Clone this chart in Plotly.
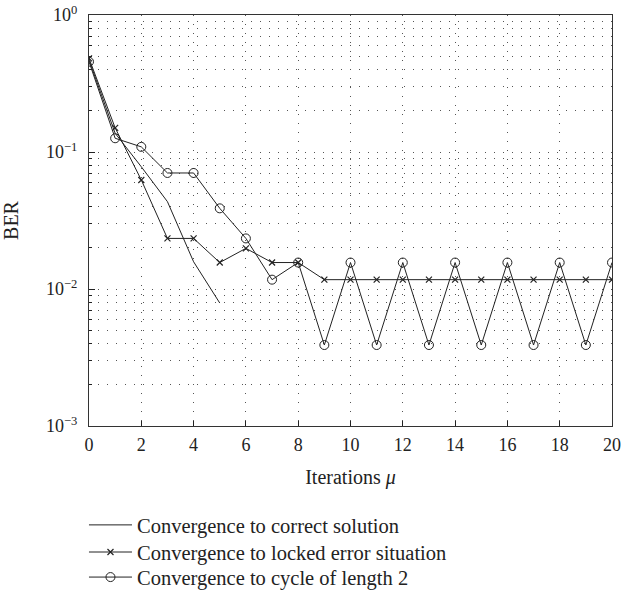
import plotly.graph_objects as go

iters_correct = [0, 1, 2, 3, 4, 5]
ber_correct = [0.47, 0.137, 0.078, 0.0434, 0.0158, 0.0079]

iters = list(range(21))
ber_locked = [0.483, 0.150, 0.0625, 0.0234, 0.0234, 0.0156, 0.0198, 0.0156, 0.0156,
              0.0117, 0.0117, 0.0117, 0.0117, 0.0117, 0.0117, 0.0117, 0.0117, 0.0117,
              0.0117, 0.0117, 0.0117]
ber_cycle = [0.456, 0.126, 0.109, 0.0703, 0.0703, 0.0388, 0.0234, 0.0117, 0.0156,
             0.0039, 0.0156, 0.0039, 0.0156, 0.0039, 0.0156, 0.0039, 0.0156, 0.0039,
             0.0156, 0.0039, 0.0156]

names = ["Convergence to correct solution",
         "Convergence to locked error situation",
         "Convergence to cycle of length 2"]

x_ticks = list(range(0, 21, 2))
y_ticks = [1e-3, 1e-2, 1e-1, 1]
y_ticktext = ["10<sup>−3</sup>", "10<sup>−2</sup>", "10<sup>−1</sup>", "10<sup>0</sup>"]
y_minor = [m * 10 ** e for e in (-3, -2, -1) for m in range(2, 10)]

FONT = "Liberation Serif"
INK = "#222"
fig = go.Figure()
fig.add_trace(go.Scatter(x=iters_correct, y=ber_correct, mode="lines", name=names[0],
                         line=dict(color=INK, width=1), legend="legend"))
fig.add_trace(go.Scatter(x=iters, y=ber_locked, mode="lines+markers", name=names[1],
                         line=dict(color=INK, width=1),
                         marker=dict(symbol="x-thin-open", size=6, color=INK,
                                     line=dict(color=INK, width=1.2)), legend="legend2"))
fig.add_trace(go.Scatter(x=iters, y=ber_cycle, mode="lines+markers", name=names[2],
                         line=dict(color=INK, width=1),
                         marker=dict(symbol="circle-open", size=9, color=INK,
                                     line=dict(color=INK, width=1)), legend="legend3"))


def leg(y):
    return dict(x=-0.0096, y=y, xanchor="left", yanchor="middle",
                font=dict(family=FONT, size=20.5, color=INK),
                itemwidth=43, bgcolor="rgba(0,0,0,0)")


grid_dash = "1px,8px"
fig.update_layout(
    width=624, height=592,
    margin=dict(l=89, r=12, t=15, b=166, autoexpand=False),
    paper_bgcolor="white", plot_bgcolor="white",
    font=dict(family=FONT, size=18, color=INK),
    showlegend=True,
    legend=leg(-0.241), legend2=leg(-0.307), legend3=leg(-0.368),
    xaxis=dict(range=[0, 20], tickvals=x_ticks, ticks="inside", ticklen=5,
               tickcolor=INK, showline=True, linecolor="#333", linewidth=1.2,
               mirror=True, showgrid=True, gridcolor="#555", gridwidth=1,
               griddash=grid_dash, zeroline=False, automargin=False,
               ticklabelstandoff=2, ticklabeloverflow="allow",
               title=dict(text="Iterations <i>μ</i>", standoff=16, font=dict(size=20)),
               tickfont=dict(size=18)),
    yaxis=dict(type="log", range=[-3, 0], tickvals=y_ticks, ticktext=y_ticktext,
               ticks="inside", ticklen=6, tickcolor=INK, showline=True,
               linecolor="#333", linewidth=1.2, mirror=True, showgrid=True,
               gridcolor="#555", gridwidth=1, griddash=grid_dash, zeroline=False,
               automargin=False, ticklabelstandoff=7, ticklabeloverflow="allow",
               title=dict(text="BER", standoff=21, font=dict(size=20)),
               tickfont=dict(size=18),
               minor=dict(tickvals=y_minor, ticks="inside", ticklen=3,
                          tickcolor=INK, showgrid=True, gridcolor="#555",
                          gridwidth=1, griddash=grid_dash)),
)
# remove the page's default 8px body margin so the figure fills the window exactly
fig.write_html("out.html", config={"displayModeBar": False},
               post_script="document.body.style.margin='0';")
